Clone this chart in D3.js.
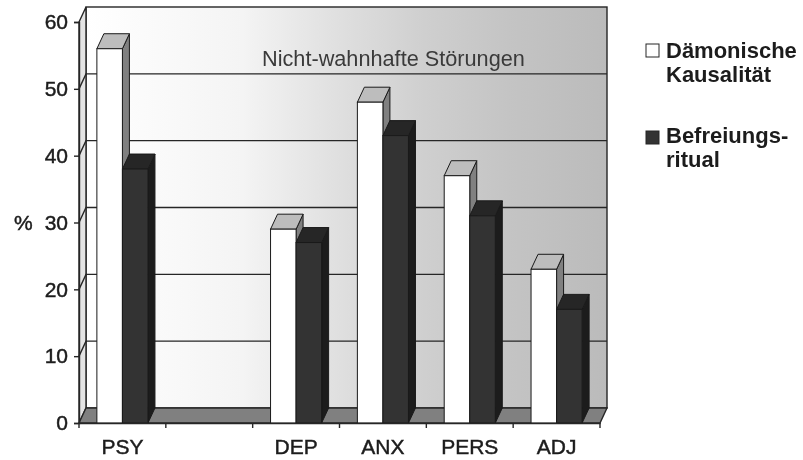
<!DOCTYPE html>
<html>
<head>
<meta charset="utf-8">
<script src="https://cdn.jsdelivr.net/npm/d3@7"></script>
<style>
  html, body { margin: 0; padding: 0; background: #fff; }
  svg { display: block; filter: blur(0.4px); }
  text { font-family: "Liberation Sans", Arial, sans-serif; fill: #1c1c1c; }
  .heavy { stroke: #1c1c1c; stroke-width: 0.45px; }
</style>
</head>
<body>
<div id="chart"></div>
<script>
const categories = ['PSY', '', 'DEP', 'ANX', 'PERS', 'ADJ'];
const kausalitaet = [56, null, 29, 48, 37, 23];
const ritual = [38, null, 27, 43, 31, 17];
const seriesNames = ['Dämonische Kausalität', 'Befreiungsritual'];
const yTicks = [0, 10, 20, 30, 40, 50, 60];

const width = 803, height = 460;
const depth = { x: 7, y: 15 };
const plot = { left: 79, right: 600, top: 22, bottom: 423 };

const svg = d3.select('#chart').append('svg')
  .attr('width', width)
  .attr('height', height);

const x = d3.scaleBand()
  .domain(categories.map((d, i) => i))
  .range([plot.left, plot.right]);

const xSeries = d3.scaleBand()
  .domain(seriesNames)
  .range([0, x.bandwidth()])
  .paddingOuter(0.7);

const y = d3.scaleLinear()
  .domain([0, 60])
  .range([plot.bottom, plot.top]);

// Back wall gradient
const grad = svg.append('defs').append('linearGradient')
  .attr('id', 'wall');
grad.append('stop').attr('offset', '0%').attr('stop-color', '#ffffff');
grad.append('stop').attr('offset', '30%').attr('stop-color', '#f4f4f4');
grad.append('stop').attr('offset', '47%').attr('stop-color', '#e1e1e1');
grad.append('stop').attr('offset', '65%').attr('stop-color', '#cfcfcf');
grad.append('stop').attr('offset', '81%').attr('stop-color', '#c4c4c4');
grad.append('stop').attr('offset', '100%').attr('stop-color', '#bbbbbb');

const line = '#262626';

svg.append('rect')
  .attr('x', plot.left + depth.x)
  .attr('y', plot.top - depth.y)
  .attr('width', plot.right - plot.left)
  .attr('height', plot.bottom - plot.top)
  .attr('fill', 'url(#wall)')
  .attr('stroke', line)
  .attr('stroke-width', 1.4);

// Left wall
svg.append('path')
  .attr('d', `M${plot.left},${plot.top}L${plot.left + depth.x},${plot.top - depth.y}V${plot.bottom - depth.y}L${plot.left},${plot.bottom}Z`)
  .attr('fill', '#e4e4e4')
  .attr('stroke', line)
  .attr('stroke-width', 1.4);

// Floor
svg.append('path')
  .attr('d', `M${plot.left},${plot.bottom}L${plot.left + depth.x},${plot.bottom - depth.y}H${plot.right + depth.x}L${plot.right},${plot.bottom}Z`)
  .attr('fill', '#808080')
  .attr('stroke', line)
  .attr('stroke-width', 1.4);

// Gridlines on the back wall and their slants on the left wall
svg.append('g').selectAll('path')
  .data(yTicks.filter(d => d > 0 && d < 60))
  .join('path')
  .attr('d', d => `M${plot.left},${y(d)}L${plot.left + depth.x},${y(d) - depth.y}H${plot.right + depth.x}`)
  .attr('fill', 'none')
  .attr('stroke', line)
  .attr('stroke-width', 1.4);

// 3D bars, one group per series
function drawBars(values, name, front, top, side) {
  const bars = svg.append('g').selectAll('g')
    .data(values.map((v, i) => ({ v, i })).filter(d => d.v !== null))
    .join('g')
    .attr('stroke', '#1a1a1a')
    .attr('stroke-width', 1);
  const bx = d => x(d.i) + xSeries(name);
  const bw = xSeries.bandwidth();
  bars.append('path')
    .attr('fill', side)
    .attr('d', d => `M${bx(d) + bw},${y(d.v)}l${depth.x},${-depth.y}V${plot.bottom - depth.y}L${bx(d) + bw},${plot.bottom}Z`);
  bars.append('path')
    .attr('fill', top)
    .attr('d', d => `M${bx(d)},${y(d.v)}l${depth.x},${-depth.y}h${bw}l${-depth.x},${depth.y}Z`);
  bars.append('rect')
    .attr('fill', front)
    .attr('x', bx)
    .attr('y', d => y(d.v))
    .attr('width', bw)
    .attr('height', d => plot.bottom - y(d.v));
}

drawBars(kausalitaet, seriesNames[0], '#ffffff', '#bdbdbd', '#808080');
drawBars(ritual, seriesNames[1], '#333333', '#262626', '#1c1c1c');

// Y axis
const yAxis = svg.append('g')
  .attr('transform', `translate(${plot.left},0)`)
  .call(d3.axisLeft(y).tickValues(yTicks).tickSize(5).tickPadding(6));
yAxis.selectAll('line, path').attr('stroke', line).attr('stroke-width', 1.4);
yAxis.selectAll('text').attr('font-size', 21).attr('font-family', null).attr('class', 'heavy');

svg.append('text')
  .attr('class', 'heavy')
  .attr('x', 14)
  .attr('y', y(30) + 7)
  .attr('font-size', 21)
  .text('%');

// X axis: labels from the band scale, ticks on the band edges
const xAxis = svg.append('g')
  .attr('transform', `translate(0,${plot.bottom})`)
  .call(d3.axisBottom(x).tickSize(0).tickPadding(16).tickFormat(i => categories[i]));
xAxis.select('.domain').attr('stroke', line).attr('stroke-width', 1.4);
xAxis.selectAll('text').attr('font-size', 21).attr('font-family', null).attr('class', 'heavy');

svg.append('g').selectAll('line')
  .data(d3.range(categories.length + 1))
  .join('line')
  .attr('x1', i => plot.left + i * x.step())
  .attr('x2', i => plot.left + i * x.step())
  .attr('y1', plot.bottom)
  .attr('y2', plot.bottom + 5)
  .attr('stroke', line)
  .attr('stroke-width', 1.4);

// Annotation
svg.append('text')
  .attr('x', 262)
  .attr('y', 66)
  .attr('font-size', 21.7)
  .style('fill', '#3a3a3a')
  .text('Nicht-wahnhafte Störungen');

// Legend
const legend = svg.append('g').attr('font-weight', 'bold').attr('font-size', 22);

legend.append('rect')
  .attr('x', 646).attr('y', 44).attr('width', 13).attr('height', 13)
  .attr('fill', '#fff').attr('stroke', line);
legend.append('text').attr('x', 666).attr('y', 58).text('Dämonische');
legend.append('text').attr('x', 666).attr('y', 82).text('Kausalität');

legend.append('rect')
  .attr('x', 646).attr('y', 131).attr('width', 13).attr('height', 13)
  .attr('fill', '#333').attr('stroke', line);
legend.append('text').attr('x', 666).attr('y', 143).text('Befreiungs-');
legend.append('text').attr('x', 666).attr('y', 167).text('ritual');
</script>
</body>
</html>
